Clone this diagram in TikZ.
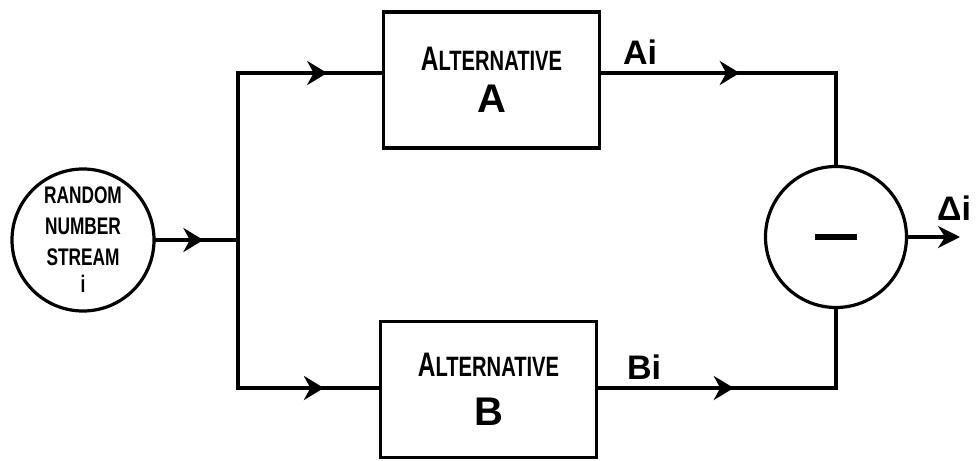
\documentclass[tikz,border=0pt]{standalone}
\usepackage{fontspec}
\setmainfont{Liberation Sans}
\newfontfamily\hand[FakeStretch=0.72]{Liberation Sans}
\newfontfamily\handwide{Liberation Sans}
\usetikzlibrary{arrows.meta,decorations.markings}

\tikzset{
  wire/.style={line width=1.8pt, line cap=rect},
  flow/.style={wire, postaction={decorate},
    decoration={markings, mark=at position #1 with {\arrow{Stealth[length=10pt,width=12pt]}}}},
  flow/.default=0.6,
  block/.style={draw, line width=1.7pt, rectangle, minimum width=108pt, minimum height=68pt,
    inner sep=0pt, align=center},
  disc/.style={draw, line width=1.6pt, circle, inner sep=0pt, align=center},
  tag/.style={inner sep=0pt, font=\handwide\bfseries\fontsize{17}{19}\selectfont},
}

\begin{document}
\begin{tikzpicture}[x=0.5pt, y=-0.5pt]
  \useasboundingbox (0,0) rectangle (976,461);

  % source of random numbers
  \node[disc, minimum size=71pt, font=\hand\bfseries\fontsize{12}{15.5}\selectfont]
    (rns) at (83,240) {RANDOM\\NUMBER\\STREAM\\[-2pt]i};

  % the two alternatives
  \node[block] (altA) at (491.5,80)
    {\hand\bfseries\fontsize{17}{19}\selectfont A{\fontsize{14}{16}\selectfont LTERNATIVE}\\[6pt]
     \handwide\bfseries\fontsize{20}{22}\selectfont A};
  \node[block] (altB) at (488.5,389.5)
    {\hand\bfseries\fontsize{17}{19}\selectfont A{\fontsize{14}{16}\selectfont LTERNATIVE}\\[10pt]
     \handwide\bfseries\fontsize{20}{22}\selectfont B};

  % difference
  \node[disc, minimum size=70.5pt] (diff) at (836,237) {\rule{21pt}{2.6pt}};

  % routing points
  \coordinate (split) at (238,240);
  \coordinate (upA) at (238,73);
  \coordinate (upB) at (238,388);
  \coordinate (rA) at (836,73);
  \coordinate (rB) at (836,388);
  \coordinate (out) at (960,237);

  % connectors
  \draw[flow=0.58] (rns) -- (split);
  \draw[wire] (upA) -- (upB);
  \draw[flow=0.62] (upA) -- (upA -| altA.west);
  \draw[flow=0.61] (upB) -- (upB -| altB.west);
  \draw[flow=0.59] (upA -| altA.east) -- (rA);
  \draw[wire] (rA) -- (diff.north);
  \draw[flow=0.57] (upB -| altB.east) -- (rB);
  \draw[wire] (rB) -- (diff.south);
  \draw[wire, -{Stealth[length=11pt,width=11pt]}] (diff) -- (out);

  % output labels
  \node[tag] (lA) at (640,52) {Ai};
  \node[tag] (lB) at (644,367) {Bi};
  \node[tag] (lD) at (954,208) {Δi};
\end{tikzpicture}
\end{document}
